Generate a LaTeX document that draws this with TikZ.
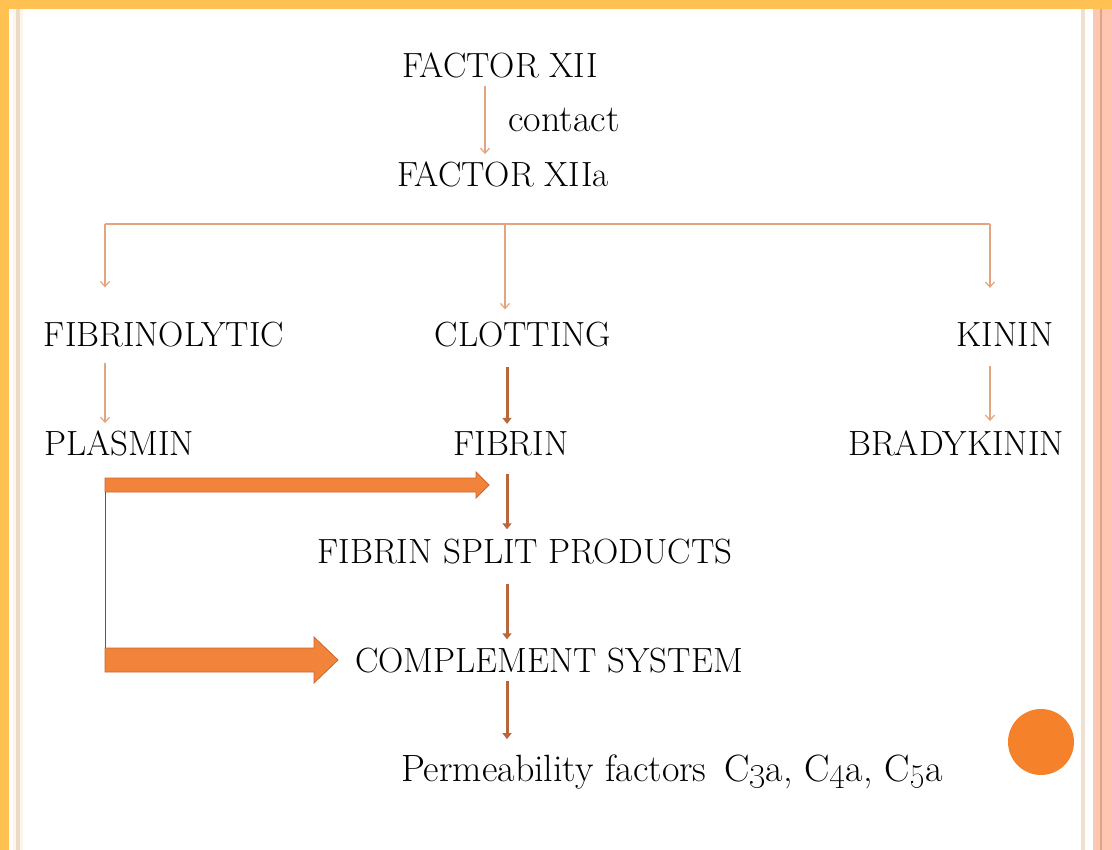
\documentclass[tikz,border=0pt]{standalone}
\usepackage{tikz}
\usetikzlibrary{arrows.meta}
\usetikzlibrary{calc}
\definecolor{bandyellow}{HTML}{FFC152}
\definecolor{thinorange}{HTML}{E3A47F}
\definecolor{brownarr}{HTML}{B8663C}
\definecolor{fatfill}{HTML}{F2833A}
\definecolor{fatedge}{HTML}{C9692F}
\definecolor{dotorange}{HTML}{F5822A}
\newcommand{\fatarrow}[5]{%
  \filldraw[fat arrow] ($(#1)+(0,#3)$) -- ($(#2)+(-#5,#3)$) -- ($(#2)+(-#5,#4)$) -- (#2)
    -- ($(#2)+(-#5,-#4)$) -- ($(#2)+(-#5,-#3)$) -- ($(#1)+(0,-#3)$) -- cycle;}
\begin{document}
\begin{tikzpicture}[x=1pt,y=-1pt,
  label node/.style={anchor=base,inner sep=6pt,font=\fontsize{35}{42}\selectfont},
  small node/.style={label node,font=\fontsize{38}{45}\selectfont},
  thin arrow/.style={draw=thinorange,line width=1.2pt,-{Straight Barb[length=5pt,width=9pt]}},
  thin line/.style={draw=thinorange,line width=1.2pt},
  brown arrow/.style={draw=brownarr,line width=3pt,-{Triangle[length=6pt,width=9pt]}},
  fat arrow/.style={fill=fatfill,draw=fatedge,line width=0.8pt}]
  % frame
  \fill[white] (0,0) rectangle (1112,850);
  \fill[bandyellow] (0,0) rectangle (1112,9);
  \fill[bandyellow] (0,0) rectangle (9,850);
  \fill[black!4!orange!8] (13,9) rectangle (23,850);
  \fill[brown!30!white] (16,9) rectangle (20,850);
  \fill[brown!25!white] (1081,9) rectangle (1085,850);
  \fill[orange!25!pink!70!white] (1093,9) rectangle (1112,850);
  \fill[fatedge!60!white] (1100,9) rectangle (1102,850);
  \fill[dotorange] (1041,742) circle (33);
  % nodes
  \node[label node] (fxii) at (500,78) {FACTOR XII};
  \node[small node] (contact) at (564,132) {contact};
  \node[label node] (fxiia) at (503,187) {FACTOR XIIa};
  \node[label node] (fibrino) at (164,347) {FIBRINOLYTIC};
  \node[label node] (clot) at (523,347) {CLOTTING};
  \node[label node] (kinin) at (1005,347) {KININ};
  \node[label node] (plasmin) at (119,455) {PLASMIN};
  \node[label node] (fibrin) at (511,455) {FIBRIN};
  \node[label node] (brady) at (956,455) {BRADYKININ};
  \node[label node] (fsp) at (525,563) {FIBRIN SPLIT PRODUCTS};
  \node[label node] (compl) at (549,672) {COMPLEMENT SYSTEM};
  \node[small node] (perm) at (672,781) {Permeability factors\, C\oldstylenums{3}a, C\oldstylenums{4}a, C\oldstylenums{5}a};
  % columns and branch points
  \coordinate (colA) at (485,0);
  \coordinate (colL) at (105,0);
  \coordinate (colM) at (505,0);
  \coordinate (colC) at (507,0);
  \coordinate (colR) at (990,0);
  \coordinate (branch) at (0,224);
  \coordinate (p1) at (105,485);
  \coordinate (t1) at (489,485);
  \coordinate (p2) at (105,660);
  \coordinate (t2) at (338,660);
  % connectors
  \draw[thin arrow,shorten <=1pt,shorten >=2pt] (colA |- fxii.south) -- (colA |- fxiia.north);
  \draw[thin line] (colL |- branch) -- (colR |- branch);
  \draw[thin arrow,shorten >=29pt] (colL |- branch) -- (colL |- fibrino.north);
  \draw[thin arrow,shorten >=7pt] (colM |- branch) -- (colM |- clot.north);
  \draw[thin arrow,shorten >=29pt] (colR |- branch) -- (colR |- kinin.north);
  \draw[thin arrow,shorten <=9pt,shorten >=1pt] (colL |- fibrino.south) -- (colL |- plasmin.north);
  \draw[thin arrow,shorten <=13pt,shorten >=3pt] (colR |- kinin.south) -- (colR |- brady.north);
  \draw[brown arrow,shorten <=13pt,shorten >=1pt] (colC |- clot.south) -- (colC |- fibrin.north);
  \draw[brown arrow,shorten <=12pt,shorten >=3pt] (colC |- fibrin.south) -- (colC |- fsp.north);
  \draw[brown arrow,shorten <=14pt,shorten >=2pt] (colC |- fsp.south) -- (colC |- compl.north);
  \draw[brown arrow,shorten <=2pt,shorten >=9pt] (colC |- compl.south) -- (colC |- perm.north);
  \draw[thin line,draw=fatedge!70!black,line width=0.8pt] (p1) -- (p2);
  \fatarrow{p1}{t1}{7}{13}{13}
  \fatarrow{p2}{t2}{12}{23}{24}
\end{tikzpicture}
\end{document}
